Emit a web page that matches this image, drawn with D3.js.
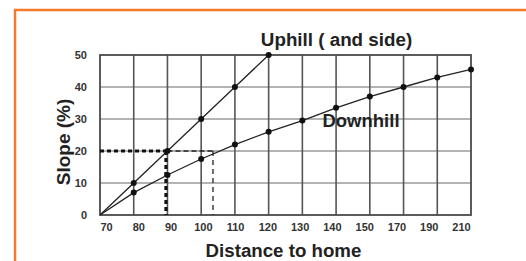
<!DOCTYPE html>
<html><head><meta charset="utf-8">
<script src="https://cdn.jsdelivr.net/npm/d3@7"></script>
<style>
html,body{margin:0;padding:0;background:#fff;}
svg{display:block;font-family:"Liberation Sans",Arial,sans-serif;}
</style></head>
<body>
<svg id="c" width="526" height="261"></svg>
<script>
const distances = [70, 80, 90, 100, 110, 120, 130, 140, 150, 170, 190, 210];
const uphillX = [70, 80, 90, 100, 110, 120];
const uphillY = [0, 10, 20, 30, 40, 50];
const downhillX = [70, 80, 90, 100, 110, 120, 130, 140, 150, 170, 190, 210];
const downhillY = [0, 7, 12.5, 17.5, 22, 26, 29.5, 33.5, 37, 40, 43, 45.5];
const yTicks = [0, 10, 20, 30, 40, 50];
const refSlope = 20;
const refUphillDist = 90;
const refDownhillDist = 103.5;

const svg = d3.select("#c");
const pL = 100, pR = 471, pT = 55, pB = 215;

const x = d3.scaleLinear()
  .domain(distances)
  .range(distances.map((d, i) => pL + i * (pR - pL) / (distances.length - 1)));
const xLab = d3.scaleLinear()
  .domain(distances)
  .range(distances.map((d, i) => 106 + i * (461 - 106) / (distances.length - 1)));
const y = d3.scaleLinear().domain([0, 50]).range([pB, pT]);

// orange frame
svg.append("path").attr("d", "M15,261 V10 H526")
  .attr("fill", "none").attr("stroke", "#f47a2a").attr("stroke-width", 2.5);

// grid
svg.append("g").selectAll("line").data(yTicks.slice(1, -1)).join("line")
  .attr("x1", pL).attr("x2", pR).attr("y1", d => y(d)).attr("y2", d => y(d))
  .attr("stroke", "#9a9a9a").attr("stroke-width", 1.6);
svg.append("g").selectAll("line").data(distances.slice(1, -1)).join("line")
  .attr("x1", d => x(d)).attr("x2", d => x(d)).attr("y1", pT).attr("y2", pB)
  .attr("stroke", "#555").attr("stroke-width", 1.6);
svg.append("rect").attr("x", pL).attr("y", pT).attr("width", pR - pL).attr("height", pB - pT)
  .attr("fill", "none").attr("stroke", "#4a4a4a").attr("stroke-width", 1.8);

// axes labels
const xAxis = d3.axisBottom(xLab).tickValues(distances).tickSize(0).tickFormat(d3.format("d"));
const gx = svg.append("g").attr("transform", `translate(0,${pB + 5})`).call(xAxis);
gx.select(".domain").remove();
gx.selectAll("text").attr("font-size", 11).attr("font-weight", "bold").attr("fill", "#333")
  .attr("font-family", "'Liberation Sans',Arial,sans-serif");

const yAxis = d3.axisLeft(y).tickValues(yTicks).tickSize(0);
const gy = svg.append("g").attr("transform", `translate(${pL - 10},0)`).call(yAxis);
gy.select(".domain").remove();
gy.selectAll("text").attr("font-size", 11).attr("font-weight", "bold").attr("fill", "#333")
  .attr("font-family", "'Liberation Sans',Arial,sans-serif");

// reference dashed lines
svg.append("line").attr("x1", x(refUphillDist)).attr("x2", x(refDownhillDist))
  .attr("y1", y(refSlope)).attr("y2", y(refSlope))
  .attr("stroke", "#222").attr("stroke-width", 1.3).attr("stroke-dasharray", "5,3");
svg.append("line").attr("x1", x(refDownhillDist)).attr("x2", x(refDownhillDist))
  .attr("y1", y(refSlope)).attr("y2", y(0))
  .attr("stroke", "#222").attr("stroke-width", 1.3).attr("stroke-dasharray", "5,4");
svg.append("line").attr("x1", x(70)).attr("x2", x(refUphillDist))
  .attr("y1", y(refSlope)).attr("y2", y(refSlope))
  .attr("stroke", "#111").attr("stroke-width", 3.2).attr("stroke-dasharray", "4,3");
svg.append("line").attr("x1", x(refUphillDist) - 1.5).attr("x2", x(refUphillDist) - 1.5)
  .attr("y1", y(refSlope)).attr("y2", y(0))
  .attr("stroke", "#111").attr("stroke-width", 3.2).attr("stroke-dasharray", "4,3");

// series
const line = d3.line().x(d => x(d[0])).y(d => y(d[1]));
const up = uphillX.map((d, i) => [d, uphillY[i]]);
const down = downhillX.map((d, i) => [d, downhillY[i]]);
[up, down].forEach(s => {
  svg.append("path").datum(s).attr("d", line).attr("fill", "none")
    .attr("stroke", "#222").attr("stroke-width", 1.3);
  svg.append("g").selectAll("circle").data(s.slice(1)).join("circle")
    .attr("cx", d => x(d[0])).attr("cy", d => y(d[1])).attr("r", 3).attr("fill", "#111");
});

// text labels
svg.append("text").attr("x", 336.5).attr("y", 46).attr("text-anchor", "middle")
  .attr("font-size", 18.8).attr("font-weight", "bold").attr("fill", "#222").text("Uphill ( and side)");
svg.append("text").attr("x", 361).attr("y", 127).attr("text-anchor", "middle")
  .attr("font-size", 18.5).attr("font-weight", "bold").attr("fill", "#222").text("Downhill");
svg.append("text").attr("x", 283.5).attr("y", 257).attr("text-anchor", "middle")
  .attr("font-size", 18.7).attr("font-weight", "bold").attr("fill", "#222").text("Distance to home");
svg.append("text").attr("transform", "translate(70,142) rotate(-90)").attr("text-anchor", "middle")
  .attr("font-size", 19).attr("font-weight", "bold").attr("fill", "#222").text("Slope (%)");
</script>
</body></html>
